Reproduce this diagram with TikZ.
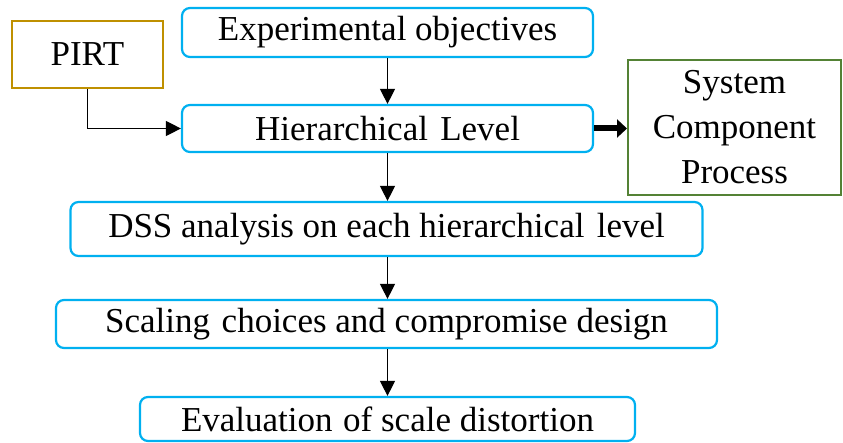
\documentclass[tikz,border=0pt]{standalone}
\usepackage{fontspec}
\setmainfont{Liberation Serif}
\usetikzlibrary{arrows.meta}
\definecolor{boxblue}{RGB}{0,176,240}
\definecolor{boxgold}{RGB}{191,144,0}
\definecolor{boxgreen}{RGB}{84,130,53}
\tikzset{
  bluebox/.style={draw=boxblue, line width=2.2pt, rounded corners=8pt, inner sep=0pt, font=\fontsize{35}{45}\selectfont},
  plainbox/.style={line width=2pt, inner sep=0pt, font=\fontsize{35}{45}\selectfont, align=center},
  flowarrow/.style={draw=black, line width=1.2pt, -{Triangle[width=15pt,length=15pt]}},
  thickarrow/.style={draw=black, line width=6pt, -{Triangle[width=18pt,length=10pt]}}
}
\begin{document}
\begin{tikzpicture}[x=1pt,y=-1pt]
\useasboundingbox (0,0) rectangle (843,443);
\node[bluebox, minimum width=411pt, minimum height=49pt] (exp) at (387.5,32.5) {Experimental objectives};
\node[bluebox, minimum width=411pt, minimum height=47pt] (hier) at (387.5,128.5) {Hierarchical\hspace{0.1em} Level};
\node[plainbox, draw=boxgold, minimum width=151pt, minimum height=67pt] (pirt) at (87.5,54.5) {PIRT};
\node[plainbox, draw=boxgreen, minimum width=213pt, minimum height=135pt] (sys) at (734.5,127.5) {System\\Component\\Process};
\node[bluebox, minimum width=632pt, minimum height=54pt] (dss) at (386.5,229) {DSS analysis on each hierarchical\hspace{0.1em} level};
\node[bluebox, minimum width=661pt, minimum height=48pt] (scal) at (386.5,324) {Scaling\hspace{0.08em} choices and compromise design};
\node[bluebox, minimum width=495pt, minimum height=44pt] (eval) at (387.5,419) {Evaluation\hspace{0.05em} of scale distortion};
\draw[flowarrow] (exp.south) -- (hier.north);
\draw[flowarrow] (hier.south) -- (hier.south |- dss.north);
\draw[flowarrow] (dss.south -| hier.south) -- (hier.south |- scal.north);
\draw[flowarrow] (scal.south -| hier.south) -- (hier.south |- eval.north);
\draw[flowarrow] (pirt.south) |- (hier.west);
\draw[thickarrow] (hier.east) -- (sys.west |- hier.east);
\end{tikzpicture}
\end{document}
